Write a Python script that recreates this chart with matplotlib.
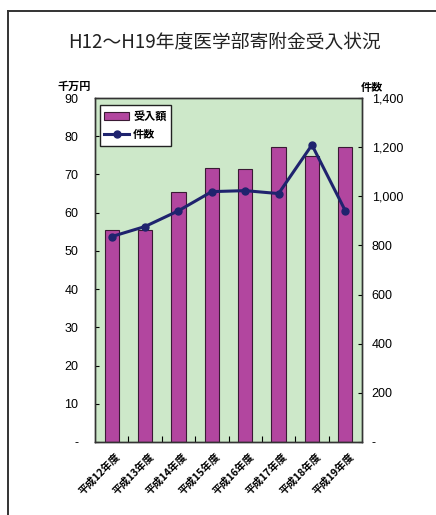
import matplotlib.pyplot as plt
from matplotlib.lines import Line2D
from matplotlib.ticker import FixedLocator, FuncFormatter

plt.rcParams["font.family"] = ["Noto Sans CJK JP", "DejaVu Sans"]

years = ["平成12年度", "平成13年度", "平成14年度", "平成15年度",
         "平成16年度", "平成17年度", "平成18年度", "平成19年度"]
amount = [55.5, 55.5, 65.3, 71.8, 71.5, 77.3, 74.7, 77.3]   # 千万円
counts = [836, 877, 941, 1019, 1023, 1011, 1209, 941]       # 件数

BAR = "#b2469f"
BAR_EDGE = "#3a1a34"
LINE = "#1f236e"
PANEL = "#cde8c9"
NUM_FONT = ["Liberation Sans", "DejaVu Sans"]

fig = plt.figure(figsize=(4.36, 5.15), dpi=100)
fig.patch.set_facecolor("white")

# outer frame (left and top edges only, the rest runs off the canvas)
fig.add_artist(Line2D([8 / 436, 8 / 436], [0, 1 - 11 / 515],
                      transform=fig.transFigure, color="#333333", lw=1.4))
fig.add_artist(Line2D([8 / 436, 1], [1 - 11 / 515, 1 - 11 / 515],
                      transform=fig.transFigure, color="#333333", lw=1.4))

fig.text(225 / 436, 1 - 42 / 515, "H12〜H19年度医学部寄附金受入状況",
         ha="center", va="center", fontsize=13.5, color="#222222")

ax = fig.add_axes([95 / 436, 1 - 442 / 515, 267 / 436, 344 / 515])
ax.set_facecolor(PANEL)
x = list(range(len(years)))
bars = ax.bar(x, amount, width=0.43, color=BAR, edgecolor=BAR_EDGE,
              linewidth=0.8, label="受入額", zorder=2)
ax.set_xlim(-0.5, len(years) - 0.5)
ax.set_ylim(0, 90)
ax.yaxis.set_major_locator(FixedLocator(range(0, 91, 10)))
ax.yaxis.set_major_formatter(FuncFormatter(lambda v, p: "-" if v == 0 else f"{v:.0f}"))
ax.set_xticks([i + 0.5 for i in x[:-1]])
ax.set_xticklabels([])
ax.tick_params(axis="x", direction="in", length=4, width=0.8)
ax.tick_params(axis="y", direction="in", length=3, width=0.8, labelsize=9, pad=12)
for t in ax.get_yticklabels():
    t.set_family(NUM_FONT)
for s in ax.spines.values():
    s.set_color("#333333")
    s.set_linewidth(1.0)

for i, lab in enumerate(years):
    ax.text(i + 0.1, -2.5, lab, rotation=45, ha="right", va="top",
            rotation_mode="anchor", fontsize=7.5, fontweight="bold")

ax2 = ax.twinx()
line, = ax2.plot(x, counts, color=LINE, lw=2.2, marker="o", ms=5,
                 label="件数", zorder=3)
ax2.set_ylim(0, 1400)
ax2.yaxis.set_major_locator(FixedLocator(range(0, 1401, 200)))
ax2.yaxis.set_major_formatter(FuncFormatter(lambda v, p: "-" if v == 0 else f"{v:,.0f}"))
ax2.tick_params(axis="y", direction="in", length=3, width=0.8, labelsize=9, pad=7)
for t in ax2.get_yticklabels():
    t.set_family(NUM_FONT)
for s in ax2.spines.values():
    s.set_color("#333333")
    s.set_linewidth(1.0)

fig.text(74 / 436, 1 - 86 / 515, "千万円", ha="center", va="center",
         fontsize=8, fontweight="bold")
fig.text(372 / 436, 1 - 87 / 515, "件数", ha="center", va="center",
         fontsize=8, fontweight="bold")

leg = ax.legend([bars, line], ["受入額", "件数"], loc="upper left",
                bbox_to_anchor=(0.01, 0.985), fontsize=8, frameon=True,
                fancybox=False, edgecolor="#222222", framealpha=1,
                handlelength=2.2, borderpad=0.4, labelspacing=0.5,
                handletextpad=0.4, borderaxespad=0.2)
leg.get_frame().set_linewidth(1.0)
for t in leg.get_texts():
    t.set_fontweight("bold")

fig.savefig("out.png", dpi=100)
